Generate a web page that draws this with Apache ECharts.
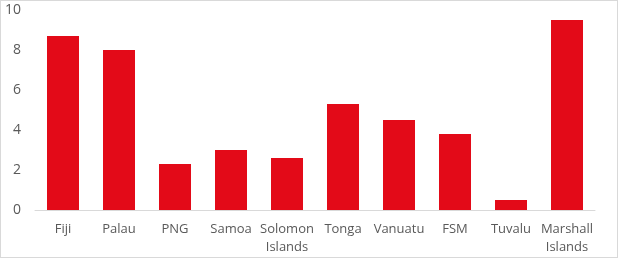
<!DOCTYPE html>
<html>
<head>
<meta charset="utf-8">
<script src="https://cdn.jsdelivr.net/npm/echarts@6/dist/echarts.min.js"></script>
<style>
html,body{margin:0;padding:0;background:#fff;}
#wrap{position:absolute;left:0;top:0;width:618px;height:258px;box-sizing:border-box;border:1px solid #d9d9d9;}
#chart{position:absolute;left:-1px;top:-1px;width:618px;height:258px;}
</style>
</head>
<body>
<div id="wrap"><div id="chart"></div></div>
<script>
const categories = ["Fiji", "Palau", "PNG", "Samoa", "Solomon\nIslands", "Tonga", "Vanuatu", "FSM", "Tuvalu", "Marshall\nIslands"];
const values = [8.7, 8.0, 2.3, 3.0, 2.6, 5.3, 4.5, 3.8, 0.5, 9.5];
const yTicks = [0, 2, 4, 6, 8, 10];

const chart = echarts.init(document.getElementById('chart'), null, {renderer: 'canvas'});
chart.setOption({
  animation: false,
  grid: {left: 35, right: 23, top: 10, bottom: 48, containLabel: false},
  xAxis: {
    type: 'category',
    data: categories,
    axisLine: {lineStyle: {color: '#d9d9d9', width: 1}},
    axisTick: {show: false},
    axisLabel: {color: '#595959', fontFamily: 'Open Sans', fontSize: 13, margin: 10, lineHeight: 18, interval: 0}
  },
  yAxis: {
    type: 'value',
    min: yTicks[0],
    max: yTicks[yTicks.length - 1],
    interval: 2,
    splitLine: {show: false},
    axisLine: {show: false},
    axisTick: {show: false},
    axisLabel: {color: '#595959', fontFamily: 'Open Sans', fontSize: 14, margin: 14}
  },
  series: [{
    type: 'bar',
    data: values,
    barWidth: 32,
    itemStyle: {color: '#E30A18'}
  }]
});
</script>
</body>
</html>
